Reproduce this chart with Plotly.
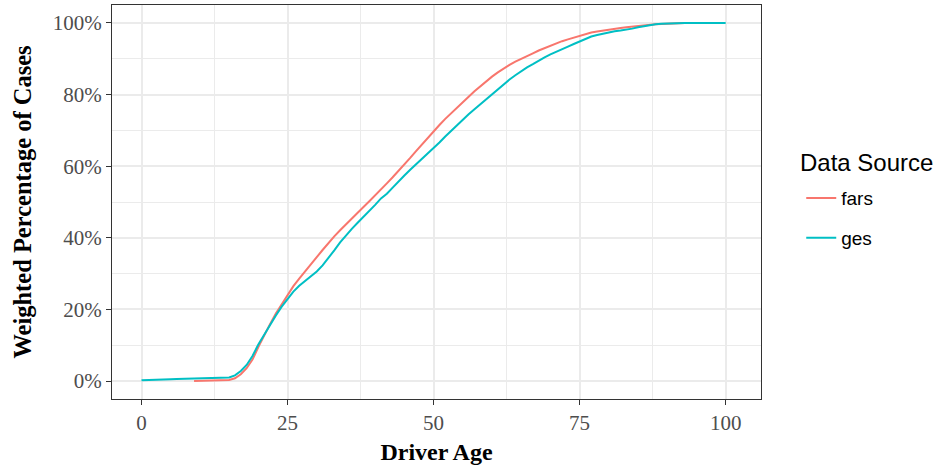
import plotly.graph_objects as go

# Cumulative weighted share of cases by driver age, per data source
ages_fars = list(range(9, 94))
pct_fars = [
    0.0, 0.05, 0.1, 0.1, 0.15, 0.2, 0.3, 0.8, 1.9, 3.6,          # 9-18
    6.0, 9.5, 12.8, 15.9, 18.9, 21.5, 24.2, 26.5, 28.6, 30.5,    # 19-28
    32.6, 34.6, 36.6, 38.6, 40.4, 42.1, 43.8, 45.4, 47.0, 48.6,  # 29-38
    50.2, 51.8, 53.5, 55.2, 56.9, 58.6, 60.4, 62.3, 64.2, 66.1,  # 39-48
    68.0, 69.8, 71.5, 73.2, 74.8, 76.4, 77.9, 79.4, 80.9, 82.3,  # 49-58
    83.7, 85.0, 86.2, 87.3, 88.3, 89.2, 89.9, 90.7, 91.5, 92.3,  # 59-68
    93.0, 93.7, 94.3, 94.9, 95.4, 95.9, 96.5, 96.9, 97.3, 97.6,  # 69-78
    97.9, 98.1, 98.4, 98.6, 98.8, 99.0, 99.2, 99.4, 99.5, 99.6,  # 79-88
    99.7, 99.8, 99.9, 99.95, 100.0,                              # 89-93
]

ages_ges = list(range(0, 101))
pct_ges = [
    0.2, 0.3, 0.4, 0.45, 0.5, 0.5, 0.55, 0.6, 0.6, 0.65,         # 0-9
    0.7, 0.7, 0.75, 0.8, 0.85, 1.0, 1.6, 2.8, 4.5, 7.0,          # 10-19
    10.2, 13.0, 15.8, 18.3, 20.8, 23.0, 25.0, 26.6, 28.0, 29.2,  # 20-29
    30.6, 32.3, 34.3, 36.5, 38.7, 40.7, 42.5, 44.2, 45.8, 47.5,  # 30-39
    49.2, 51.0, 52.3, 54.0, 55.8, 57.4, 59.0, 60.5, 62.0, 63.5,  # 40-49
    65.0, 66.6, 68.3, 69.9, 71.5, 73.0, 74.5, 75.9, 77.3, 78.6,  # 50-59
    80.0, 81.4, 82.9, 84.2, 85.4, 86.6, 87.6, 88.5, 89.5, 90.4,  # 60-69
    91.2, 92.0, 92.7, 93.4, 94.1, 94.8, 95.5, 96.2, 96.6, 97.0,  # 70-79
    97.4, 97.7, 97.9, 98.1, 98.4, 98.8, 99.1, 99.4, 99.6, 99.75, # 80-89
    99.85, 99.9, 99.95, 100.0, 100.0, 100.0, 100.0, 100.0, 100.0, 100.0,  # 90-99
    100.0,                                                       # 100
]

x_ticks = [0, 25, 50, 75, 100]
y_ticks = [0, 20, 40, 60, 80, 100]
y_labels = [f"{v}%" for v in y_ticks]

serif = "Liberation Serif, Times New Roman, serif"
sans = "Liberation Sans, Arial, sans-serif"
grid = "#EBEBEB"
border = "#333333"

fig = go.Figure()
fig.add_trace(go.Scatter(x=ages_fars, y=pct_fars, mode="lines", name="fars",
                         line=dict(color="#F8766D", width=2), legendgroup="a"))
fig.add_trace(go.Scatter(x=ages_ges, y=pct_ges, mode="lines", name="ges",
                         line=dict(color="#00BFC4", width=2), legendgroup="b"))

axis_common = dict(
    showline=True, linecolor=border, linewidth=1.3, mirror=True,
    showgrid=True, gridcolor=grid, gridwidth=1.7,
    ticks="outside", ticklen=5, tickcolor=border, tickwidth=1.3,
    tickfont=dict(family=serif, size=21, color="#4D4D4D"),
    zeroline=False,
)

fig.update_layout(
    width=942, height=465,
    margin=dict(l=112, r=181, t=5, b=66),
    plot_bgcolor="white", paper_bgcolor="white",
    xaxis=dict(
        range=[-5.05, 106.05], tickvals=x_ticks,
        minor=dict(tickvals=[12.5, 37.5, 62.5, 87.5], showgrid=True,
                   gridcolor=grid, gridwidth=0.9, ticks=""),
        title=dict(text="<b>Driver Age</b>", standoff=8,
                   font=dict(family=serif, size=24, color="black")),
        **axis_common,
    ),
    yaxis=dict(
        range=[-5, 105], tickvals=y_ticks, ticktext=y_labels,
        minor=dict(tickvals=[10, 30, 50, 70, 90], showgrid=True,
                   gridcolor=grid, gridwidth=0.9, ticks=""),
        title=dict(text="<b>Weighted Percentage of Cases</b>", standoff=14,
                   font=dict(family=serif, size=24.5, color="black")),
        **axis_common,
    ),
    legend=dict(
        x=1.062, xanchor="left", y=0.558, yanchor="top",
        font=dict(family=sans, size=19, color="black"),
        tracegroupgap=12, traceorder="grouped",
        bgcolor="rgba(0,0,0,0)",
    ),
    annotations=[dict(
        text="Data Source", xref="paper", yref="paper",
        x=1.057, y=0.6015, xanchor="left", yanchor="middle",
        showarrow=False, font=dict(family=sans, size=24, color="black"),
    )],
)

fig.write_html("out.html")
